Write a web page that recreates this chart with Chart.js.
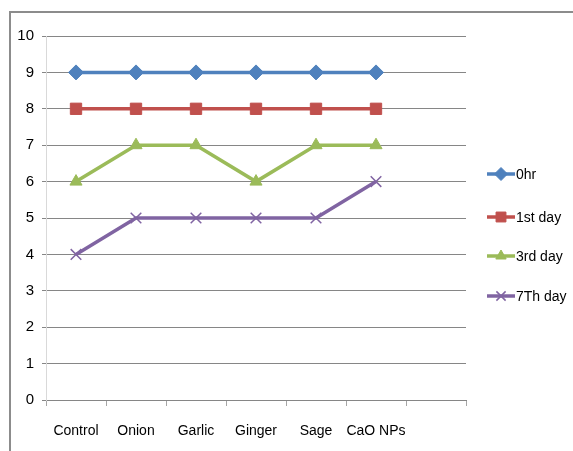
<!DOCTYPE html>
<html>
<head>
<meta charset="utf-8">
<script src="https://cdn.jsdelivr.net/npm/chart.js@4/dist/chart.umd.min.js"></script>
<style>
  html, body { margin: 0; padding: 0; background: #fff; }
  #wrap { position: relative; width: 573px; height: 451px; }
</style>
</head>
<body>
<div id="wrap"><canvas id="c" width="573" height="451"></canvas></div>
<script>
// Categories (the trailing blank slot leaves an empty column on the right)
const categories = ['Control', 'Onion', 'Garlic', 'Ginger', 'Sage', 'CaO NPs', ''];
const seriesNames = ['0hr', '1st day', '3rd day', '7Th day'];
const hr0   = [9, 9, 9, 9, 9, 9, null];
const day1  = [8, 8, 8, 8, 8, 8, null];
const day3  = [6, 7, 7, 6, 7, 7, null];
const day7  = [4, 5, 5, 5, 5, 6, null];
const yTicks = [0, 1, 2, 3, 4, 5, 6, 7, 8, 9, 10];

const FONT = "'Liberation Sans Narrow', 'Liberation Sans', sans-serif";
const FONT_SIZE = 14;

const colors = ['#4F81BD', '#C0504D', '#9BBB59', '#8064A2'];
const styles = ['rectRot', 'rect', 'triangle', 'crossRot'];
const radii  = [7.5, 8, 7, 7.5];
const values = [hr0, day1, day3, day7];

const datasets = seriesNames.map((name, i) => ({
  label: name,
  data: values[i],
  borderColor: colors[i],
  backgroundColor: colors[i],
  borderWidth: 3.5,
  pointStyle: styles[i],
  pointRadius: radii[i],
  pointHoverRadius: radii[i],
  pointBorderWidth: i === 3 ? 1.5 : 1,
  pointBorderColor: colors[i],
  pointBackgroundColor: colors[i],
  tension: 0,
  spanGaps: false
}));

// Outer frame and right-hand legend drawn on the canvas
const framePlugin = {
  id: 'frameAndLegend',
  afterDraw(chart) {
    const ctx = chart.ctx;
    ctx.save();
    ctx.strokeStyle = '#8c8c8c';
    ctx.lineWidth = 2;
    ctx.beginPath();
    ctx.moveTo(10, 451);
    ctx.lineTo(10, 12);
    ctx.lineTo(573, 12);
    ctx.stroke();

    const legendY = [174, 217, 256, 296];
    chart.data.datasets.forEach((ds, i) => {
      const y = legendY[i];
      ctx.strokeStyle = ds.borderColor;
      ctx.lineWidth = 3.5;
      ctx.beginPath();
      ctx.moveTo(487, y);
      ctx.lineTo(515, y);
      ctx.stroke();
      ctx.fillStyle = ds.borderColor;
      ctx.strokeStyle = ds.borderColor;
      ctx.lineWidth = ds.pointBorderWidth;
      Chart.helpers.drawPoint(ctx, {
        pointStyle: ds.pointStyle,
        radius: ds.pointRadius - 1,
        rotation: 0,
        borderWidth: ds.pointBorderWidth
      }, 501, y);
      ctx.fillStyle = '#000';
      ctx.font = FONT_SIZE + 'px ' + FONT;
      ctx.textAlign = 'left';
      ctx.textBaseline = 'middle';
      ctx.fillText(ds.label, 516, y + 1);
    });
    ctx.restore();
  }
};

new Chart(document.getElementById('c'), {
  type: 'line',
  data: { labels: categories, datasets },
  plugins: [framePlugin],
  options: {
    responsive: false,
    animation: false,
    events: [],
    layout: { padding: { left: 0, top: 36, right: 107, bottom: 0 } },
    plugins: { legend: { display: false }, tooltip: { enabled: false } },
    scales: {
      x: {
        type: 'category',
        offset: true,
        afterFit(scale) { scale.height = 51; },
        grid: {
          offset: true,
          drawOnChartArea: false,
          drawTicks: true,
          tickLength: 6,
          color: '#a6a6a6'
        },
        border: { color: '#868686', width: 1 },
        ticks: {
          color: '#000',
          padding: 17,
          maxRotation: 0,
          autoSkip: false,
          font: { family: FONT, size: FONT_SIZE }
        }
      },
      y: {
        min: 0,
        max: 10,
        afterFit(scale) { scale.width = 46; },
        afterBuildTicks(scale) { scale.ticks = yTicks.map(v => ({ value: v })); },
        grid: {
          color: '#868686',
          lineWidth: 1,
          tickLength: 4,
          drawTicks: true
        },
        border: { color: '#d9d9d9', width: 1 },
        ticks: {
          color: '#000',
          padding: 8,
          font: { family: FONT, size: 15 }
        }
      }
    }
  }
});
</script>
</body>
</html>
